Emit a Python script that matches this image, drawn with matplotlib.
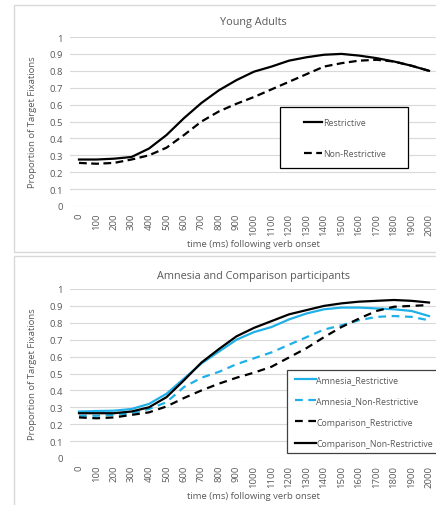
import matplotlib.pyplot as plt
from matplotlib.patches import Rectangle

plt.rcParams["font.family"] = ["Open Sans", "DejaVu Sans"]

# data
times = list(range(0, 2001, 100))

young_restrictive = [0.275, 0.275, 0.28, 0.29, 0.34, 0.42, 0.52, 0.61, 0.685, 0.745, 0.795,
                     0.825, 0.86, 0.88, 0.895, 0.90, 0.89, 0.875, 0.855, 0.83, 0.80]
young_nonrestrictive = [0.255, 0.25, 0.255, 0.275, 0.30, 0.345, 0.42, 0.50, 0.56, 0.605, 0.645,
                        0.69, 0.735, 0.78, 0.825, 0.845, 0.86, 0.865, 0.855, 0.83, 0.80]

amnesia_restrictive = [0.275, 0.278, 0.28, 0.29, 0.32, 0.38, 0.47, 0.56, 0.63, 0.70, 0.745,
                       0.775, 0.82, 0.855, 0.88, 0.89, 0.89, 0.885, 0.88, 0.87, 0.84]
amnesia_nonrestrictive = [0.25, 0.25, 0.255, 0.265, 0.29, 0.33, 0.42, 0.475, 0.51, 0.555, 0.59,
                          0.625, 0.67, 0.715, 0.76, 0.785, 0.815, 0.835, 0.84, 0.835, 0.815]
comparison_restrictive = [0.24, 0.235, 0.24, 0.255, 0.27, 0.305, 0.355, 0.40, 0.44, 0.475, 0.505,
                          0.54, 0.595, 0.65, 0.715, 0.775, 0.825, 0.87, 0.895, 0.90, 0.905]
comparison_nonrestrictive = [0.265, 0.265, 0.265, 0.275, 0.30, 0.36, 0.46, 0.565, 0.645, 0.72, 0.77,
                             0.81, 0.85, 0.875, 0.90, 0.915, 0.925, 0.93, 0.935, 0.93, 0.92]

yticks = [0, 0.1, 0.2, 0.3, 0.4, 0.5, 0.6, 0.7, 0.8, 0.9, 1]
ytick_labels = ["0", "0.1", "0.2", "0.3", "0.4", "0.5", "0.6", "0.7", "0.8", "0.9", "1"]

TXT = "#595959"
GRID = "#d9d9d9"
BLUE = "#1fb0e8"
FS = 6.8
LFS = 6.3

W, H = 436, 506
fig = plt.figure(figsize=(W / 100, H / 100), dpi=100)

# chart frames (pixel coords, y from top)
for y0, y1 in [(6, 253), (257, 510)]:
    fig.add_artist(Rectangle((14 / W, 1 - y1 / H), 1, (y1 - y0) / H,
                             transform=fig.transFigure, fill=False,
                             edgecolor="#d9d9d9", lw=1.0))


def setup(ax, title, tpad):
    ax.set_xlim(-51.4, 2040)
    ax.set_ylim(0, 1)
    ax.set_yticks(yticks)
    ax.set_yticklabels(ytick_labels)
    ax.set_xticks(times)
    ax.set_xticklabels([str(t) for t in times], rotation=90)
    ax.tick_params(length=0, labelsize=FS, colors=TXT, pad=5)
    ax.yaxis.grid(True, color=GRID, lw=0.8)
    ax.set_axisbelow(True)
    for s in ax.spines.values():
        s.set_visible(False)
    ax.set_title(title, fontsize=7.8, color=TXT, pad=tpad)
    ax.set_xlabel("time (ms) following verb onset", fontsize=FS, color=TXT, labelpad=3)
    ax.set_ylabel("Proportion of Target Fixations", fontsize=FS, color=TXT, labelpad=9)


def legend_box(x0, y0, x1, y1, color):
    fig.add_artist(Rectangle((x0 / W, 1 - y1 / H), (x1 - x0) / W, (y1 - y0) / H,
                             transform=fig.transFigure, facecolor="white",
                             edgecolor=color, lw=0.9, zorder=5))


# top: young adults
ax1 = fig.add_axes([70 / W, 1 - 207 / H, (436 - 70) / W, (207 - 38) / H])
setup(ax1, "Young Adults", 9)
ax1.plot(times, young_restrictive, color="black", lw=1.6, label="Restrictive")
ax1.plot(times, young_nonrestrictive, color="black", lw=1.6, ls=(0, (3.5, 2)),
         label="Non-Restrictive")
legend_box(280, 108, 408, 169, "black")
leg1 = fig.legend(*ax1.get_legend_handles_labels(), loc="upper left",
                  bbox_to_anchor=(304 / W, 1 - 119.5 / H),
                  fontsize=LFS, frameon=False, handlelength=2.0,
                  handletextpad=0.15, labelspacing=2.45, borderpad=0,
                  borderaxespad=0)
leg1.set_zorder(6)
for t in leg1.get_texts():
    t.set_color(TXT)

# bottom: amnesia and comparison
ax2 = fig.add_axes([70 / W, 1 - 459 / H, (436 - 70) / W, (459 - 290) / H])
setup(ax2, "Amnesia and Comparison participants", 8)
ax2.plot(times, amnesia_restrictive, color=BLUE, lw=1.6, label="Amnesia_Restrictive")
ax2.plot(times, amnesia_nonrestrictive, color=BLUE, lw=1.6, ls=(0, (3.5, 2.5)),
         label="Amnesia_Non-Restrictive")
ax2.plot(times, comparison_restrictive, color="black", lw=1.6, ls=(0, (3.5, 2.5)),
         label="Comparison_Restrictive")
ax2.plot(times, comparison_nonrestrictive, color="black", lw=1.6,
         label="Comparison_Non-Restrictive")
legend_box(287, 371, 440, 454, "#404040")
leg2 = fig.legend(*ax2.get_legend_handles_labels(), loc="upper left",
                  bbox_to_anchor=(295 / W, 1 - 376 / H),
                  fontsize=LFS, frameon=False, handlelength=2.4,
                  handletextpad=0.05, labelspacing=1.4, borderpad=0,
                  borderaxespad=0)
leg2.set_zorder(6)
for t in leg2.get_texts():
    t.set_color(TXT)

fig.savefig("out.png", dpi=100)
